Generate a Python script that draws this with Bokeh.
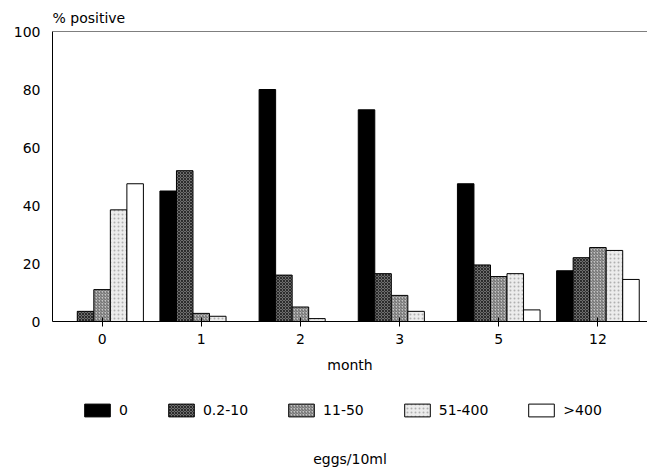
from bokeh.plotting import figure
from bokeh.models import ColumnDataSource, Legend, LegendItem, Label, Span, FactorRange
from bokeh.layouts import column
from bokeh.transform import dodge
from bokeh.embed import file_html
from bokeh.resources import INLINE

months = ["0", "1", "2", "3", "5", "12"]
groups = ["0", "0.2-10", "11-50", "51-400", ">400"]
eggs_0 = [0, 45, 80, 73, 47.5, 17.5]
eggs_02_10 = [3.5, 52, 16, 16.5, 19.5, 22]
eggs_11_50 = [11, 2.8, 5, 9, 15.5, 25.5]
eggs_51_400 = [38.5, 1.8, 1, 3.5, 16.5, 24.5]
eggs_gt400 = [47.5, 0, 0, 0, 4, 14.5]

FONT = "DejaVu Sans"

src = ColumnDataSource(dict(month=months, g0=eggs_0, g1=eggs_02_10, g2=eggs_11_50,
                            g3=eggs_51_400, g4=eggs_gt400))

H1 = 380
xr = FactorRange(*months, range_padding=0)
p = figure(width=647, height=H1, x_range=xr,
           y_range=(0, 100), output_backend="svg", toolbar_location=None,
           min_border_left=52, min_border_right=0, min_border_top=31, min_border_bottom=H1 - 321)
p.outline_line_color = None
p.grid.visible = False
p.background_fill_color = "white"
p.border_fill_color = "white"

p.title.text = "% positive"
p.title.align = "left"
p.title.text_font = FONT
p.title.text_font_size = "14px"
p.title.text_font_style = "normal"
p.title.text_color = "black"
p.title.standoff = 12

styles = [
    dict(fill_color="#000000"),
    dict(fill_color="#6e6e6e", hatch_pattern="x", hatch_color="#1a1a1a", hatch_scale=3, hatch_weight=0.8),
    dict(fill_color="#c4c4c4", hatch_pattern="/", hatch_color="#4a4a4a", hatch_scale=3, hatch_weight=0.8),
    dict(fill_color="#ececec", hatch_pattern=".", hatch_color="#b0b0b0", hatch_scale=4, hatch_weight=1),
    dict(fill_color="#ffffff"),
]
cols = ["g0", "g1", "g2", "g3", "g4"]
w = 1 / 6
for i, (c, st) in enumerate(zip(cols, styles)):
    p.vbar(x=dodge("month", (i - 2) * w, range=xr), top=c, width=w, bottom=0,
           source=src, line_color="black", line_width=1, **st)

# axes
p.yaxis.ticker = [0, 20, 40, 60, 80, 100]
p.yaxis.major_tick_out = 0
p.yaxis.major_tick_in = 0
p.yaxis.minor_tick_out = 0
p.yaxis.minor_tick_in = 0
p.yaxis.major_label_standoff = 12
p.yaxis.axis_line_color = "black"
for ax in (p.xaxis, p.yaxis):
    ax.major_label_text_font = FONT
    ax.major_label_text_font_size = "14px"
    ax.major_label_text_color = "black"
p.xaxis.major_tick_out = 5
p.xaxis.major_tick_in = 4
p.xaxis.major_tick_line_color = "black"
p.xaxis.major_label_standoff = 7
p.xaxis.axis_line_color = "black"
p.xaxis.axis_label = "month"
p.xaxis.axis_label_text_font = FONT
p.xaxis.axis_label_text_font_size = "14px"
p.xaxis.axis_label_text_font_style = "normal"
p.xaxis.axis_label_text_color = "black"
p.xaxis.axis_label_standoff = 10

p.add_layout(Span(location=100, dimension="width", line_color="black", line_width=1))

# legend panel (frame aligned with the main plot's frame)
H2 = 473 - H1
p2 = figure(width=647, height=H2, x_range=xr, y_range=(0, H2),
            output_backend="svg", toolbar_location=None,
            x_axis_location=None, y_axis_location=None, min_border=0)
p2.outline_line_color = None
p2.grid.visible = False
p2.background_fill_color = "white"
p2.border_fill_color = "white"

items = []
for i, (c, st, g) in enumerate(zip(cols, styles, groups)):
    r = p2.vbar(x=dodge("month", (i - 2) * w, range=xr), top=c, width=w, bottom=0,
                source=src, line_color="black", line_width=1, visible=False, **st)
    items.append(LegendItem(label=g, renderers=[r]))

legend = Legend(items=items, orientation="horizontal", location=(29, H2 - (418 - H1)),
                glyph_width=32, glyph_height=16, label_standoff=6, spacing=37, label_width=0,
                padding=0, margin=0, border_line_color=None, background_fill_alpha=0,
                inactive_fill_alpha=0, click_policy="none",
                label_text_font=FONT, label_text_font_size="14px", label_text_color="black")
p2.add_layout(legend)

p2.add_layout(Label(x=3, y=H2 - (458 - H1), text="eggs/10ml", text_font=FONT,
                    text_font_size="14px", text_baseline="middle", text_align="center",
                    text_color="black"))

layout = column(p, p2, spacing=0)
open("out.html", "w").write(file_html(layout, INLINE))
